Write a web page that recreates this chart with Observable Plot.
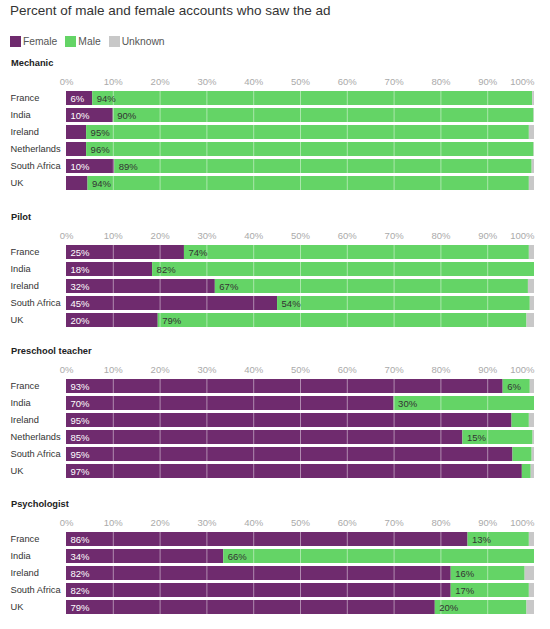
<!DOCTYPE html>
<html>
<head>
<meta charset="utf-8">
<script src="https://cdn.jsdelivr.net/npm/d3@7"></script>
<script src="https://cdn.jsdelivr.net/npm/@observablehq/plot@0.6"></script>
<style>
  body { margin: 0; background: #fff; font-family: "Liberation Sans", Arial, sans-serif; }
  #title { height: 22px; line-height: 22px; font-size: 13.5px; color: #333; padding-left: 10px; }
  #legend { margin-top: 12px; height: 14px; display: flex; align-items: center; padding-left: 10px; font-size: 10.3px; color: #555; }
  #legend span.sw { display: inline-block; width: 11px; height: 11px; margin-right: 2px; }
  #legend span.lb { margin-right: 8px; }
  #panels { margin-top: 8px; }
  .head { height: 14px; line-height: 14px; font-size: 9.3px; font-weight: bold; color: #222; padding-left: 11px; }
  svg { display: block; }
</style>
</head>
<body>
<div id="title">Percent of male and female accounts who saw the ad</div>
<div id="legend"></div>
<div id="panels"></div>
<script>
// series names and colours
const genders = ['Female', 'Male', 'Unknown']
const colors = ['#6f2b6e', '#64d466', '#c8c8c8']
const xTicks = [0, 10, 20, 30, 40, 50, 60, 70, 80, 90, 100]

// Mechanic
const mechanicCountries = ['France', 'India', 'Ireland', 'Netherlands', 'South Africa', 'UK']
const mechanicFemale = [5.6, 10.0, 4.3, 4.3, 10.3, 4.6]
const mechanicMale = [94.0, 89.9, 94.6, 95.6, 89.2, 94.3]
const mechanicUnknown = [0.4, 0.1, 1.1, 0.1, 0.5, 1.1]

// Pilot
const pilotCountries = ['France', 'India', 'Ireland', 'South Africa', 'UK']
const pilotFemale = [25.2, 18.4, 31.8, 45.1, 19.6]
const pilotMale = [73.7, 81.6, 66.9, 54.0, 78.8]
const pilotUnknown = [1.1, 0.0, 1.3, 0.9, 1.6]

// Preschool teacher
const preschoolCountries = ['France', 'India', 'Ireland', 'Netherlands', 'South Africa', 'UK']
const preschoolFemale = [93.3, 70.0, 95.2, 84.7, 95.4, 97.4]
const preschoolMale = [5.8, 30.0, 3.7, 15.0, 4.1, 1.9]
const preschoolUnknown = [0.9, 0.0, 1.1, 0.3, 0.5, 0.7]

// Psychologist
const psychCountries = ['France', 'India', 'Ireland', 'South Africa', 'UK']
const psychFemale = [85.8, 33.6, 82.2, 82.2, 78.8]
const psychMale = [13.1, 66.4, 15.8, 16.7, 19.6]
const psychUnknown = [1.1, 0.0, 2.0, 1.1, 1.6]

// height = svg height of each panel (header comes on top)
const panels = [
  { name: 'Mechanic', height: 140, countries: mechanicCountries, series: [mechanicFemale, mechanicMale, mechanicUnknown] },
  { name: 'Pilot', height: 120, countries: pilotCountries, series: [pilotFemale, pilotMale, pilotUnknown] },
  { name: 'Preschool teacher', height: 139, countries: preschoolCountries, series: [preschoolFemale, preschoolMale, preschoolUnknown] },
  { name: 'Psychologist', height: 121, countries: psychCountries, series: [psychFemale, psychMale, psychUnknown] },
]

// legend
const legend = d3.select('#legend')
genders.forEach((g, i) => {
  legend.append('span').attr('class', 'sw').style('background', colors[i])
  legend.append('span').attr('class', 'lb').text(g)
})

const fmt = d3.format('.0f')
// small segments get no label
const label = (d, g) => (d.gender === g && d.value >= 5.5 ? fmt(d.value) + '%' : null)
const step = 17.6

panels.forEach(p => {
  const rows = []
  p.countries.forEach((c, i) => {
    genders.forEach((g, j) => rows.push({ country: c, gender: g, value: p.series[j][i] }))
  })
  const stack = { x: 'value', y: 'country', z: 'gender', order: genders }

  const chart = Plot.plot({
    width: 550,
    height: p.height,
    marginLeft: 66,
    marginRight: 16,
    marginTop: 18,
    marginBottom: p.height - 18 - p.countries.length * step,
    style: { fontFamily: '"Liberation Sans", Arial, sans-serif' },
    x: { domain: [0, 100], label: null },
    y: { domain: p.countries, paddingInner: 0.15, paddingOuter: 0.075, label: null },
    color: { domain: genders, range: colors },
    marks: [
      Plot.barX(rows, { ...stack, fill: 'gender' }),
      Plot.gridX(xTicks.slice(1, -1), { stroke: 'white', strokeOpacity: 0.45, strokeWidth: 1 }),
      Plot.text(rows, Plot.stackX1({ ...stack, text: d => label(d, 'Female'), fill: 'white', textAnchor: 'start', dx: 4, fontSize: 9.5 })),
      Plot.text(rows, Plot.stackX1({ ...stack, text: d => label(d, 'Male'), fill: '#333', textAnchor: 'start', dx: 4, fontSize: 9.5 })),
      Plot.axisX(xTicks.slice(0, -1), { anchor: 'top', tickSize: 0, tickPadding: 4, tickFormat: d => d + '%', fill: '#aaa', fontSize: 9.5, label: null }),
      Plot.axisX(xTicks.slice(-1), { anchor: 'top', tickSize: 0, tickPadding: 4, tickFormat: d => d + '%', fill: '#aaa', fontSize: 9.5, textAnchor: 'end', label: null }),
      Plot.axisY({ anchor: 'left', tickSize: 0, tickPadding: 0, textAnchor: 'start', dx: -56, fill: '#333', fontSize: 9.3, label: null }),
    ],
  })
  const div = d3.select('#panels').append('div')
  div.append('div').attr('class', 'head').text(p.name)
  div.append(() => chart)
})
</script>
</body>
</html>
